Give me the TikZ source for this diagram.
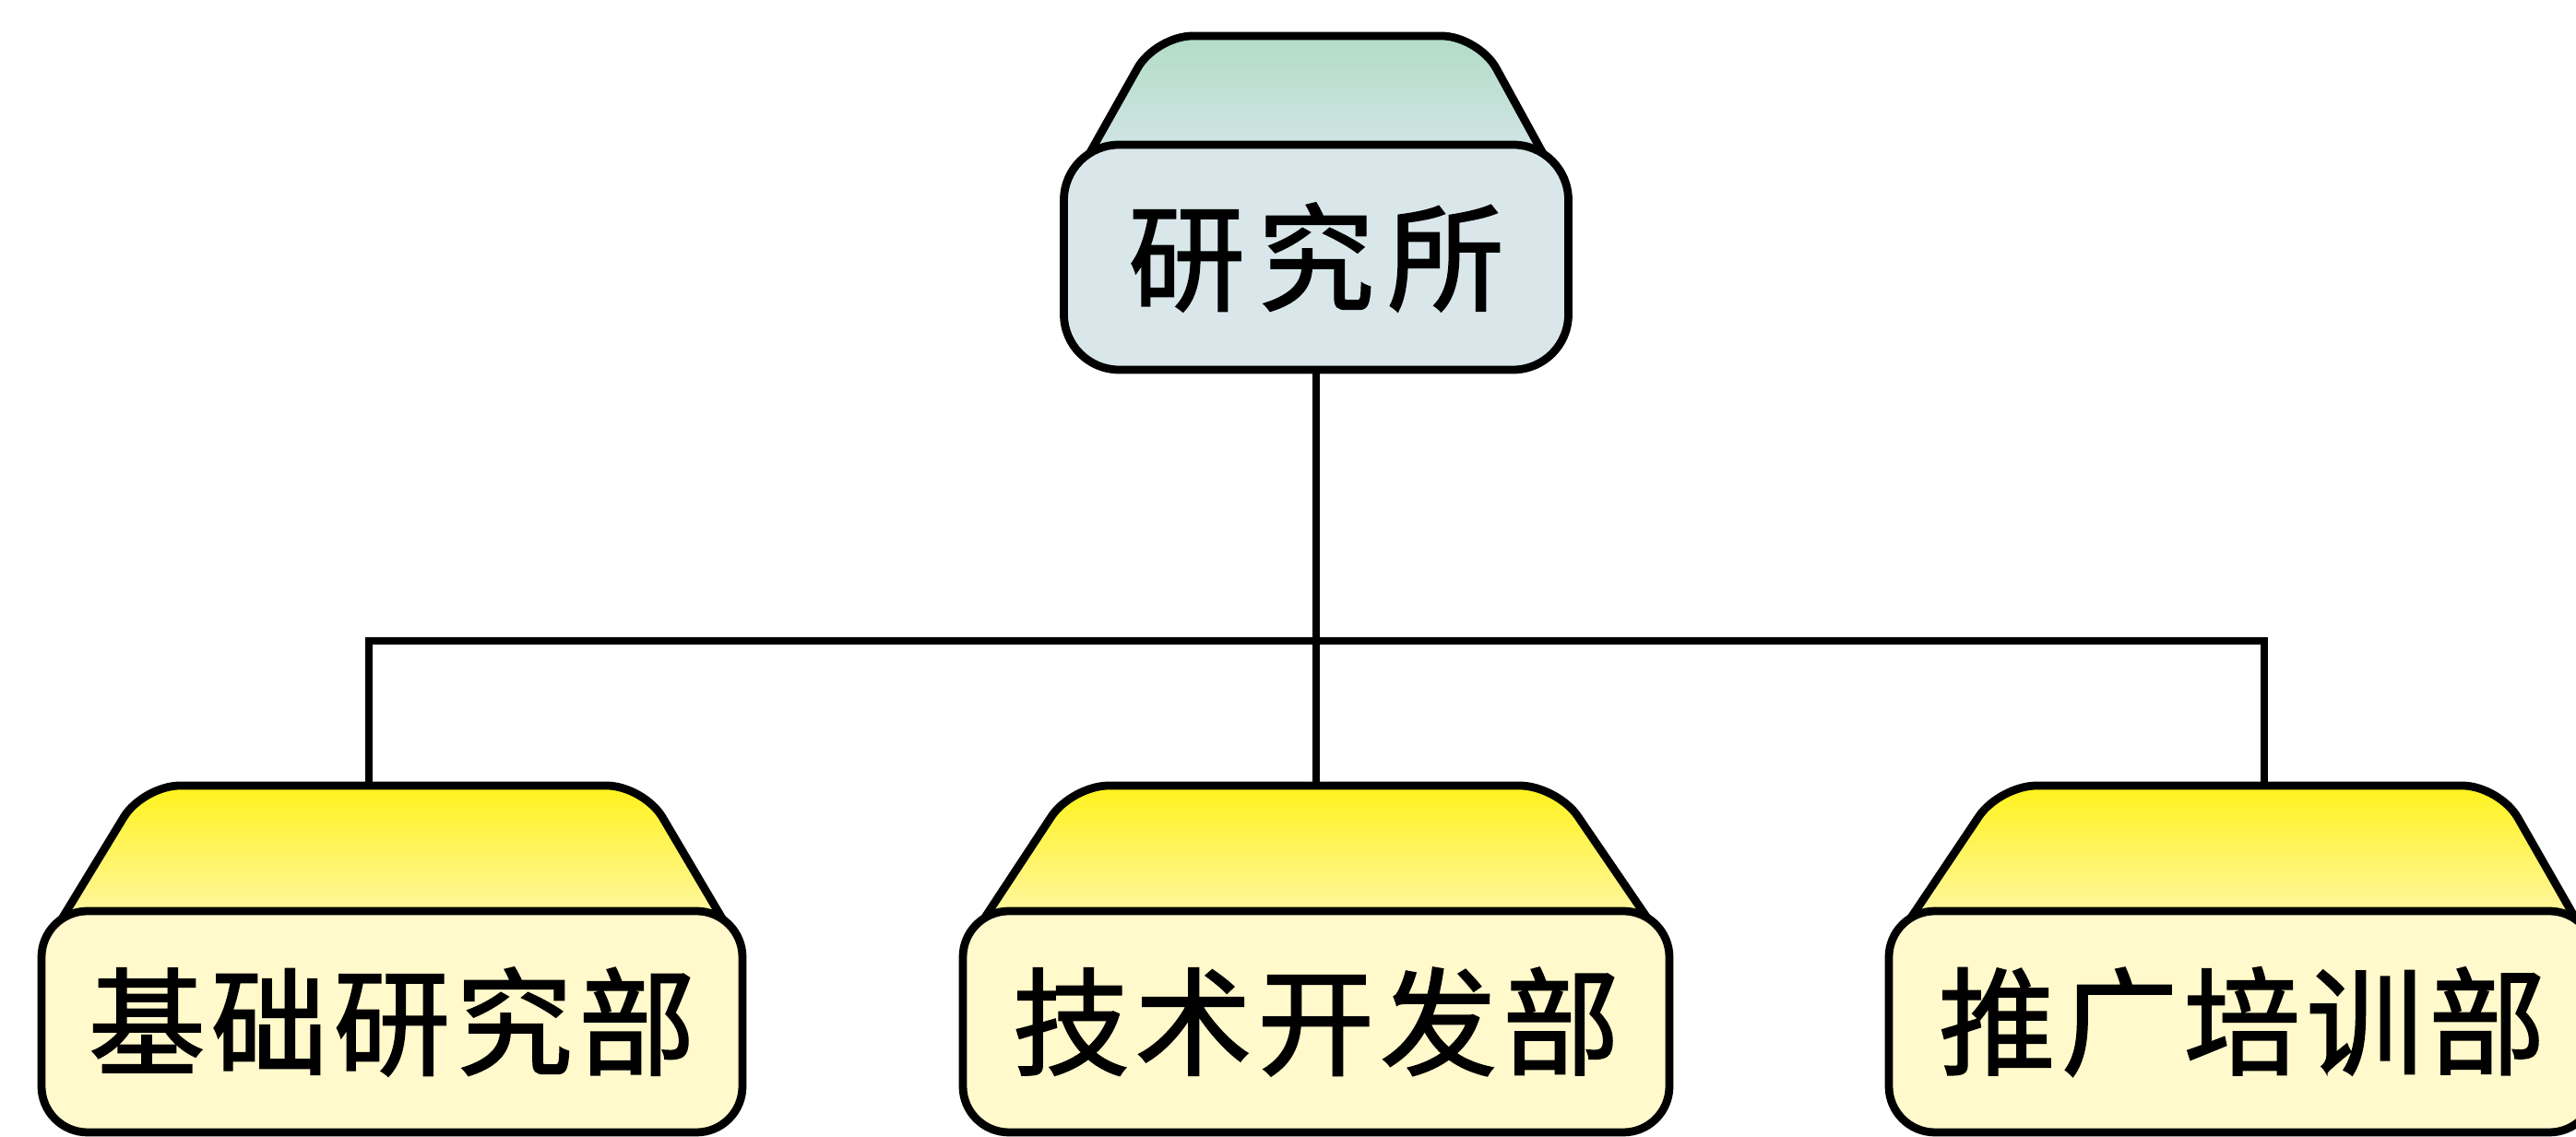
\documentclass[tikz,border=0pt]{standalone}
\usepackage{fontspec}
\newfontfamily\cjk[FakeBold=1.6]{Noto Sans CJK SC}
\definecolor{lidgreen}{HTML}{B2DCC6}
\definecolor{lidgreenlow}{HTML}{D6E6EA}
\definecolor{basegreen}{HTML}{D9E7EB}
\definecolor{lidyellow}{HTML}{FFF21C}
\definecolor{lidyellowlow}{HTML}{FFF7B4}
\definecolor{baseyellow}{HTML}{FFF9CB}

\begin{document}
\begin{tikzpicture}[line width=2.5pt,
    lid/.style={draw, line join=round, top color=lidyellow, bottom color=lidyellowlow},
    base/.style={draw, rounded corners=0.5cm, fill=baseyellow, minimum width=7.66cm, minimum height=2.4cm,
        font=\cjk\fontsize{36pt}{40pt}\selectfont\addfontfeatures{LetterSpace=5}},
    link/.style={line width=2.3pt}]

    \useasboundingbox[fill=white] (0,0) rectangle (27.93,12.33);

    % lids, only the top corners are rounded
    \draw[lid, top color=lidgreen, bottom color=lidgreenlow] (11.72,10.5) [rounded corners=0.4cm] -- (12.53,11.94) -- (16.03,11.94) [sharp corners] -- (16.82,10.5) -- cycle;
    \draw[lid] (0.57,2.2) [rounded corners=0.4cm] -- (1.55,3.81) -- (6.98,3.81) [sharp corners] -- (7.93,2.2) -- cycle;
    \draw[lid] (10.56,2.2) [rounded corners=0.4cm] -- (11.62,3.81) -- (16.88,3.81) [sharp corners] -- (17.98,2.2) -- cycle;
    \draw[lid] (20.60,2.2) [rounded corners=0.4cm] -- (21.68,3.81) -- (27.10,3.81) [sharp corners] -- (28.02,2.2) -- cycle;

    % boxes
    \node[base, fill=basegreen, minimum width=5.47cm, minimum height=2.44cm, rounded corners=0.6cm,
        font=\cjk\fontsize{36pt}{40pt}\selectfont\addfontfeatures{LetterSpace=11}] (00) at (14.27,9.54) {研究所};
    \node[base, minimum width=7.6cm] (10) at (4.25,1.25) {基础研究部};
    \node[base] (11) at (14.27,1.25) {技术开发部};
    \node[base] (12) at (24.31,1.25) {推广培训部};

    \coordinate (j) at (14.27,5.38);
    \coordinate (t10) at (4.00,3.81);
    \coordinate (t11) at (14.27,3.81);
    \coordinate (t12) at (24.55,3.81);

    \draw[link] (00.south) -- (t11);
    \draw[link] (t10) -- (t10 |- j) -- (t12 |- j) -- (t12);
\end{tikzpicture}
\end{document}
